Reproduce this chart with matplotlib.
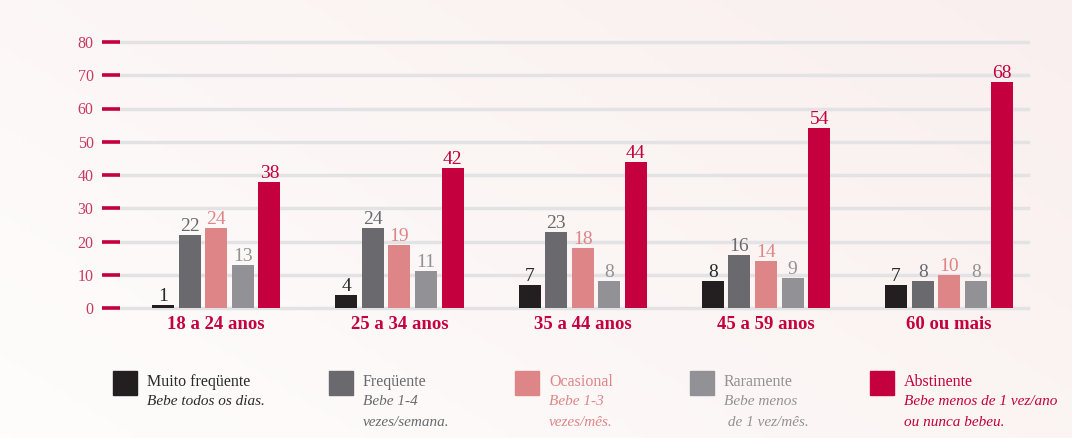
import numpy as np
import matplotlib
from matplotlib import pyplot as plt

matplotlib.rcParams["font.family"] = ["Liberation Serif", "DejaVu Serif"]

groups = ["18 a 24 anos", "25 a 34 anos", "35 a 44 anos", "45 a 59 anos", "60 ou mais"]
series_names = ["Muito freqüente", "Freqüente", "Ocasional", "Raramente", "Abstinente"]
series_desc = [
    "Bebe todos os dias.",
    "Bebe 1-4\nvezes/semana.",
    "Bebe 1-3\nvezes/mês.",
    "Bebe menos\n de 1 vez/mês.",
    "Bebe menos de 1 vez/ano\nou nunca bebeu.",
]
muito_frequente = [1, 4, 7, 8, 7]
frequente = [22, 24, 23, 16, 8]
ocasional = [24, 19, 18, 14, 10]
raramente = [13, 11, 8, 9, 8]
abstinente = [38, 42, 44, 54, 68]
yticks = [0, 10, 20, 30, 40, 50, 60, 70, 80]

values = [muito_frequente, frequente, ocasional, raramente, abstinente]
bar_colors = ["#231f20", "#6a6a6e", "#de8587", "#929296", "#c4003f"]
label_colors = ["#2a2a2a", "#6a6a6e", "#de8587", "#929296", "#c4003f"]
red = "#c4003f"

fig = plt.figure(figsize=(10.72, 4.38), dpi=100)

# soft background gradient
bg = fig.add_axes([0, 0, 1, 1], zorder=-10)
gx, gy = np.meshgrid(np.linspace(0, 1, 200), np.linspace(0, 1, 100))
grad = np.clip(0.6 * gx + 0.4 * (1 - gy), 0, 1)
bg.imshow(grad, cmap=matplotlib.colors.LinearSegmentedColormap.from_list(
    "bg", ["#fefdfc", "#f9efee"]), aspect="auto", extent=[0, 1, 0, 1])
bg.axis("off")

W, H = 1072, 438
ax = fig.add_axes([120 / W, (H - 308) / H, (1028 - 120) / W, (308 - 42) / H])
ax.set_facecolor("none")

x = np.arange(len(groups))
w = 0.12
step = 0.145
for i, (vals, c, lc) in enumerate(zip(values, bar_colors, label_colors)):
    xs = x + (i - 2) * step
    ax.bar(xs, vals, width=w, color=c, zorder=3)
    for xi, v in zip(xs, vals):
        ax.annotate(str(v), (xi, v), xytext=(0, 0), textcoords="offset points",
                    ha="center", va="bottom", fontsize=14, color=lc, zorder=4)

ax.set_xlim(-0.525, 4.43)
ax.set_ylim(0, 80)
for t in yticks:
    ax.axhline(t, color="#e3e3e5", lw=2.5, zorder=1, clip_on=False)

for s in ax.spines.values():
    s.set_visible(False)
ax.set_yticks(yticks)
ax.set_yticklabels([str(t) for t in yticks], color="#c8385f", fontsize=11.5)
ax.tick_params(axis="y", length=13, width=2.6, color=red, pad=6)
ax.set_xticks(x)
ax.set_xticklabels(groups, color=red, fontsize=13.5, fontweight="bold")
ax.tick_params(axis="x", length=0, pad=6)

# legend
sq_x = [113, 329, 515, 690, 870]
for i in range(5):
    x0 = sq_x[i] / W
    fig.patches.append(matplotlib.patches.Rectangle(
        (x0, (H - 395) / H), 24 / W, 24 / H, transform=fig.transFigure,
        color=bar_colors[i]))
    fig.text(x0 + 34 / W, (H - 382) / H, series_names[i], color=label_colors[i],
             fontsize=11.5, va="center", ha="left")
    fig.text(x0 + 34 / W, (H - 395) / H, series_desc[i], color=label_colors[i],
             fontsize=11, style="italic", va="top", ha="left", linespacing=1.75)

fig.savefig("out.png", dpi=100)
